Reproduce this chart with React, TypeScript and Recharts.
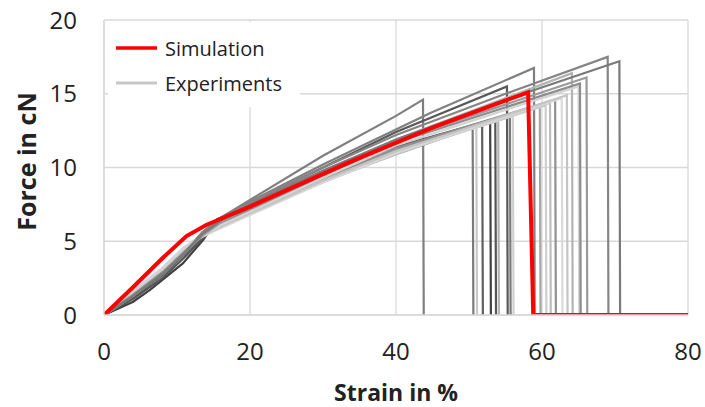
import React from 'react';
import { LineChart, Line, XAxis, YAxis, CartesianGrid, Legend, Label } from 'recharts';

type P = [number, number];

const xTicks = [0, 20, 40, 60, 80];
const yTicks = [0, 5, 10, 15, 20];

const simulation: P[] = [
  [0, 0], [4, 1.9], [8, 3.85], [11.3, 5.35], [14, 6.1], [20, 7.35], [33.3, 10.3], [45, 12.7], [58.1, 15.1], [58.8, 0], [80, 0],
];

const expA: P[] = [[0, 0], [4, 1.3], [8, 2.9], [11, 4.3], [13.5, 5.6], [16, 6.6], [20, 7.8], [30, 10.8], [40, 13.5], [43.7, 14.6], [43.8, 0]];
const expB: P[] = [[0, 0], [4, 1.3], [8, 2.8], [11, 4.2], [13.5, 5.3], [16, 6.1], [20, 7.0], [30, 9.1], [40, 10.9], [50.5, 12.7], [50.6, 0]];
const expC: P[] = [[0, 0], [4, 1.5], [8, 3.1], [11, 4.5], [13.5, 5.4], [16, 6.0], [20, 6.9], [30, 9.0], [40, 10.9], [51.0, 12.8], [51.1, 0]];
const expD: P[] = [[0, 0], [4, 1.2], [8, 2.7], [11, 4.1], [13.5, 5.3], [16, 6.3], [20, 7.3], [30, 9.4], [40, 11.2], [51.8, 13.0], [51.9, 0]];
const expE: P[] = [[0, 0], [4, 0.9], [6.3, 1.7], [10.8, 3.5], [13.6, 5.1], [15.5, 6.5], [20, 7.4], [30, 9.5], [40, 11.3], [52.9, 13.1], [53.0, 0]];
const expF: P[] = [[0, 0], [4, 1.1], [8, 2.5], [11, 3.9], [13.5, 5.2], [16, 6.3], [20, 7.3], [30, 9.5], [40, 11.4], [53.6, 13.3], [53.7, 0]];
const expG: P[] = [[0, 0], [4, 1.5], [8, 3.1], [11, 4.5], [13.5, 5.4], [16, 6.0], [20, 6.9], [30, 9.1], [40, 11.0], [54.0, 13.2], [54.1, 0]];
const expH: P[] = [[0, 0], [4, 1.3], [8, 2.8], [11, 4.2], [13.5, 5.5], [16, 6.5], [20, 7.6], [30, 10.0], [40, 12.4], [55.2, 15.5], [55.3, 0]];
const expI: P[] = [[0, 0], [4, 1.3], [8, 2.8], [11, 4.2], [13.5, 5.4], [16, 6.2], [20, 7.2], [30, 9.4], [40, 11.3], [55.6, 13.5], [55.7, 0]];
const expJ: P[] = [[0, 0], [4, 1.6], [8, 3.2], [11, 4.6], [13.5, 5.4], [16, 5.9], [20, 6.8], [30, 9.0], [40, 11.0], [56.0, 13.5], [56.1, 0]];
const expK: P[] = [[0, 0], [4, 1.3], [8, 2.8], [11, 4.2], [13.5, 5.6], [16, 6.6], [20, 7.7], [30, 10.2], [44.7, 13.7], [58.9, 16.75], [59.0, 0]];
const expL: P[] = [[0, 0], [4, 1.5], [8, 3.1], [11, 4.5], [13.5, 5.4], [16, 6.1], [20, 7.0], [30, 9.2], [40, 11.2], [59.7, 14.2], [59.8, 0]];
const expM: P[] = [[0, 0], [4, 1.6], [8, 3.2], [11, 4.6], [13.5, 5.4], [16, 6.0], [20, 6.9], [30, 9.0], [40, 11.0], [60.5, 14.2], [60.6, 0]];
const expN: P[] = [[0, 0], [4, 1.5], [8, 3.1], [11, 4.5], [13.5, 5.4], [16, 6.0], [20, 6.9], [30, 9.1], [40, 11.1], [61.1, 14.4], [61.2, 0]];
const expO: P[] = [[0, 0], [4, 1.3], [8, 2.8], [11, 4.2], [13.5, 5.4], [16, 6.2], [20, 7.1], [30, 9.3], [40, 11.3], [61.8, 14.6], [61.9, 0]];
const expP: P[] = [[0, 0], [4, 1.6], [8, 3.2], [11, 4.6], [13.5, 5.3], [16, 5.9], [20, 6.8], [30, 9.0], [40, 11.0], [62.7, 14.7], [62.8, 0]];
const expQ: P[] = [[0, 0], [4, 1.5], [8, 3.1], [11, 4.5], [13.5, 5.4], [16, 6.0], [20, 6.9], [30, 9.1], [40, 11.1], [63.4, 14.9], [63.5, 0]];
const expR: P[] = [[0, 0], [4, 1.4], [8, 2.9], [11, 4.3], [13.5, 5.4], [16, 6.3], [20, 7.4], [30, 9.7], [40, 11.9], [64.1, 16.4], [64.2, 0]];
const expS: P[] = [[0, 0], [4, 1.5], [8, 3.1], [11, 4.5], [13.5, 5.4], [16, 6.1], [20, 7.0], [30, 9.3], [40, 11.5], [65.0, 15.5], [65.1, 0]];
const expT: P[] = [[0, 0], [4, 1.3], [8, 2.8], [11, 4.2], [13.5, 5.4], [16, 6.3], [20, 7.3], [30, 9.6], [40, 11.7], [65.2, 15.7], [65.3, 0]];
const expU: P[] = [[0, 0], [4, 1.4], [8, 2.9], [11, 4.3], [13.5, 5.4], [16, 6.3], [20, 7.4], [30, 9.7], [40, 11.8], [66.1, 16.1], [66.2, 0]];
const expV: P[] = [[0, 0], [4, 1.3], [8, 2.8], [11, 4.2], [13.5, 5.6], [16, 6.5], [20, 7.6], [30, 10.0], [40, 12.2], [55, 15.0], [69.0, 17.5], [69.1, 0]];
const expW: P[] = [[0, 0], [4, 1.3], [8, 2.8], [11, 4.2], [13.5, 5.5], [16, 6.4], [20, 7.5], [30, 9.8], [40, 11.9], [55, 14.6], [70.6, 17.2], [70.7, 0]];

const experiments: P[][] = [expA, expB, expC, expD, expE, expF, expG, expH, expI, expJ, expK, expL, expM, expN, expO, expP, expQ, expR, expS, expT, expU, expV, expW];
const experimentColors = [
  '#7f7f7f', '#7a7a7a', '#c8c8c8', '#5f5f5f', '#404040', '#555555', '#b4b4b4', '#595959', '#7a7a7a', '#d0d0d0', '#808080', '#a6a6a6',
  '#cfcfcf', '#bdbdbd', '#909090', '#d9d9d9', '#c4c4c4', '#b3b3b3', '#d4d4d4', '#8c8c8c', '#9a9a9a', '#858585', '#7a7a7a',
];

const toRows = (pts: P[]) => pts.map(([x, y]) => ({ x, y }));

const FONT = "'Open Sans', 'Noto Sans', sans-serif";
const TEXT = '#222222';

const renderLegend = () => (
  <div style={{ position: 'relative', width: 192, height: 85, background: '#ffffff', fontFamily: FONT, fontSize: 20, color: TEXT }}>
    <svg width={192} height={85} style={{ position: 'absolute', left: 0, top: 0 }}>
      <line x1={8} x2={49} y1={26} y2={26} stroke="#ff0000" strokeWidth={3.5} />
      <line x1={8} x2={49} y1={61} y2={61} stroke="#c8c8c8" strokeWidth={3} />
    </svg>
    <div style={{ position: 'absolute', left: 57, top: 13, lineHeight: '28px', whiteSpace: 'nowrap' }}>Simulation</div>
    <div style={{ position: 'absolute', left: 57, top: 48, lineHeight: '28px', whiteSpace: 'nowrap' }}>Experiments</div>
  </div>
);

export default function App() {
  return (
    <div style={{ position: 'absolute', left: 0, top: 0, width: 705, height: 407, background: '#fff' }}>
      <LineChart width={705} height={407} margin={{ top: 20, right: 17, bottom: 0, left: 0 }}>
        <CartesianGrid stroke="#d9d9d9" strokeWidth={1.3} />
        <XAxis
          type="number"
          dataKey="x"
          domain={[0, 80]}
          ticks={xTicks}
          allowDataOverflow
          height={92}
          tickLine={false}
          tickSize={0}
          tickMargin={28}
          axisLine={{ stroke: '#d9d9d9', strokeWidth: 1.3 }}
          tick={{ fontSize: 24, fill: TEXT, fontFamily: FONT }}
        >
          <Label
            content={(p: any) => {
              const vb = p.viewBox || { x: 104, y: 315, width: 584, height: 92 };
              return (
                <text x={vb.x + vb.width / 2} y={vb.y + 86} textAnchor="middle" fontFamily={FONT} fontSize={23} fontWeight="bold" fill={TEXT}>
                  Strain in %
                </text>
              );
            }}
          />
        </XAxis>
        <YAxis
          type="number"
          domain={[0, 20]}
          ticks={yTicks}
          allowDataOverflow
          width={104}
          tickLine={false}
          tickSize={0}
          tickMargin={27}
          axisLine={{ stroke: '#d9d9d9', strokeWidth: 1.3 }}
          tick={{ fontSize: 24, fill: TEXT, fontFamily: FONT }}
        >
          <Label
            content={(p: any) => {
              const vb = p.viewBox || { x: 0, y: 20, width: 104, height: 295 };
              const cx = 36;
              const cy = vb.y + vb.height / 2 - 6;
              return (
                <text x={cx} y={cy} transform={`rotate(-90 ${cx} ${cy})`} textAnchor="middle" fontFamily={FONT} fontSize={25} fontWeight="bold" fill={TEXT}>
                  Force in cN
                </text>
              );
            }}
          />
        </YAxis>
        <Legend
          layout="horizontal"
          verticalAlign="middle"
          align="center"
          content={renderLegend}
          wrapperStyle={{ position: 'absolute', left: 108, top: 22, width: 192, height: 85, bottom: 'auto', right: 'auto' }}
        />
        {experiments.map((pts, i) => (
          <Line
            key={`exp-${i}`}
            data={toRows(pts)}
            dataKey="y"
            type="linear"
            stroke={experimentColors[i]}
            strokeWidth={2.2}
            dot={false}
            activeDot={false}
            isAnimationActive={false}
            legendType="none"
          />
        ))}
        <Line
          data={toRows(simulation)}
          dataKey="y"
          type="linear"
          stroke="#ff0000"
          strokeWidth={4}
          dot={false}
          activeDot={false}
          isAnimationActive={false}
          legendType="none"
        />
      </LineChart>
    </div>
  );
}
